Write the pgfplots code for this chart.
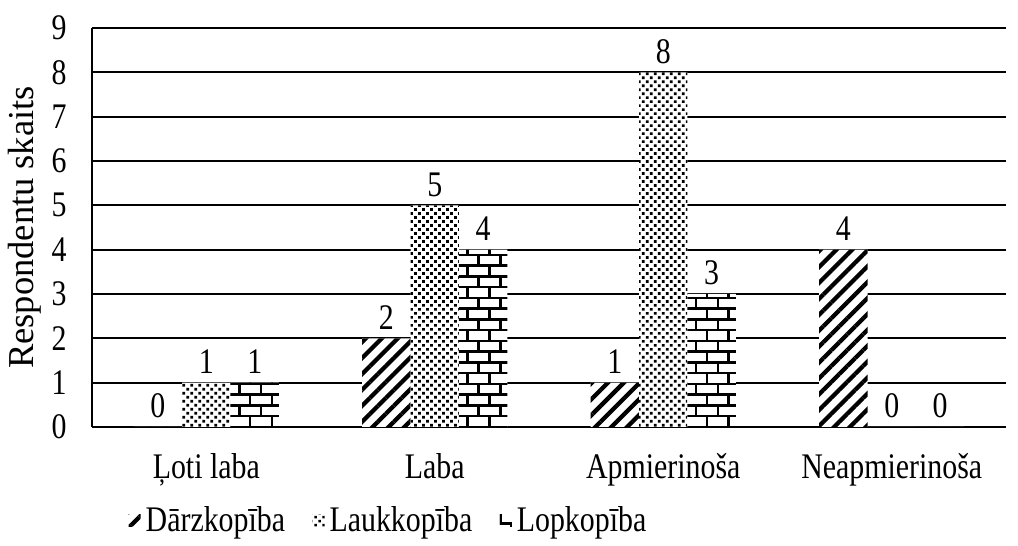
\documentclass[border=0pt]{standalone}
\usepackage{fontspec}
\setmainfont{Liberation Serif}[FakeStretch=0.83]
\newfontfamily\fullfont{Liberation Serif}
\usepackage{pgfplots}
\pgfplotsset{compat=1.18}
\usetikzlibrary{patterns,patterns.meta}

\pgfdeclarepatternformonly{mybricks}{\pgfqpoint{-0.6pt}{-0.6pt}}{\pgfqpoint{9.3pt}{9.2pt}}{\pgfqpoint{8.7pt}{8.6pt}}{%
  \pgfsetlinewidth{1pt}%
  \pgfpathmoveto{\pgfqpoint{-0.6pt}{0pt}}\pgfpathlineto{\pgfqpoint{9.3pt}{0pt}}%
  \pgfpathmoveto{\pgfqpoint{-0.6pt}{4.3pt}}\pgfpathlineto{\pgfqpoint{9.3pt}{4.3pt}}%
  \pgfpathmoveto{\pgfqpoint{0pt}{0pt}}\pgfpathlineto{\pgfqpoint{0pt}{4.3pt}}%
  \pgfpathmoveto{\pgfqpoint{8.7pt}{0pt}}\pgfpathlineto{\pgfqpoint{8.7pt}{4.3pt}}%
  \pgfpathmoveto{\pgfqpoint{4.35pt}{4.3pt}}\pgfpathlineto{\pgfqpoint{4.35pt}{8.6pt}}%
  \pgfusepath{stroke}%
}

\begin{document}
\begin{tikzpicture}[font=\fontsize{14.4pt}{17pt}\selectfont]
\begin{axis}[
  scale only axis,
  width=365.6pt, height=159.6pt,
  clip=false,
  xmin=-0.5, xmax=3.5, ymin=0, ymax=9,
  ytick={0,1,...,9},
  xtick={0,1,2,3},
  xticklabels={Ļoti laba, Laba, Apmierinoša, Neapmierinoša},
  /pgf/number format/assume math mode=true,
  ymajorgrids,
  grid style={black, line width=0.8pt},
  axis x line*=bottom, axis y line*=left,
  axis line style={black, line width=0.8pt},
  major tick length=0pt,
  yticklabel style={inner sep=0pt, xshift=-10pt},
  xticklabel style={yshift=-7pt},
  ybar=0pt, bar width=0.212,
  nodes near coords,
  every node near coord/.append style={black, font=\fontsize{14.4pt}{17pt}\selectfont},
  ylabel={Respondentu skaits},
  every axis y label/.style={at={(rel axis cs:-0.0733,0.5)}, rotate=90, anchor=center,
    font=\fullfont\fontsize{14.6pt}{17pt}\selectfont},
  legend style={at={(rel axis cs:0.326,-0.235)}, anchor=center, draw=none, fill=none,
    legend columns=-1,
    /tikz/every even column/.append style={column sep=9pt},
    font=\fontsize{14.4pt}{17pt}\selectfont},
  legend image code/.code={\fill[#1] (0pt,-2.2pt) rectangle (4.8pt,2.6pt);},
  every axis plot/.append style={draw=none, pattern color=black, preaction={fill=white}},
]
\addplot[pattern={Lines[angle=45,distance=4.5pt,line width=1.7pt]}] coordinates {(0,0) (1,2) (2,1) (3,4)};
\addplot[pattern={Dots[angle=45,distance=2.26pt,radius=0.76pt]}] coordinates {(0,1) (1,5) (2,8) (3,0)};
\addplot[pattern=mybricks] coordinates {(0,1) (1,4) (2,3) (3,0)};
\legend{Dārzkopība, Laukkopība, Lopkopība}
\path (rel axis cs:-0.1007,-0.2907) rectangle (rel axis cs:1.0131,1.0702);
\end{axis}
\end{tikzpicture}
\end{document}
